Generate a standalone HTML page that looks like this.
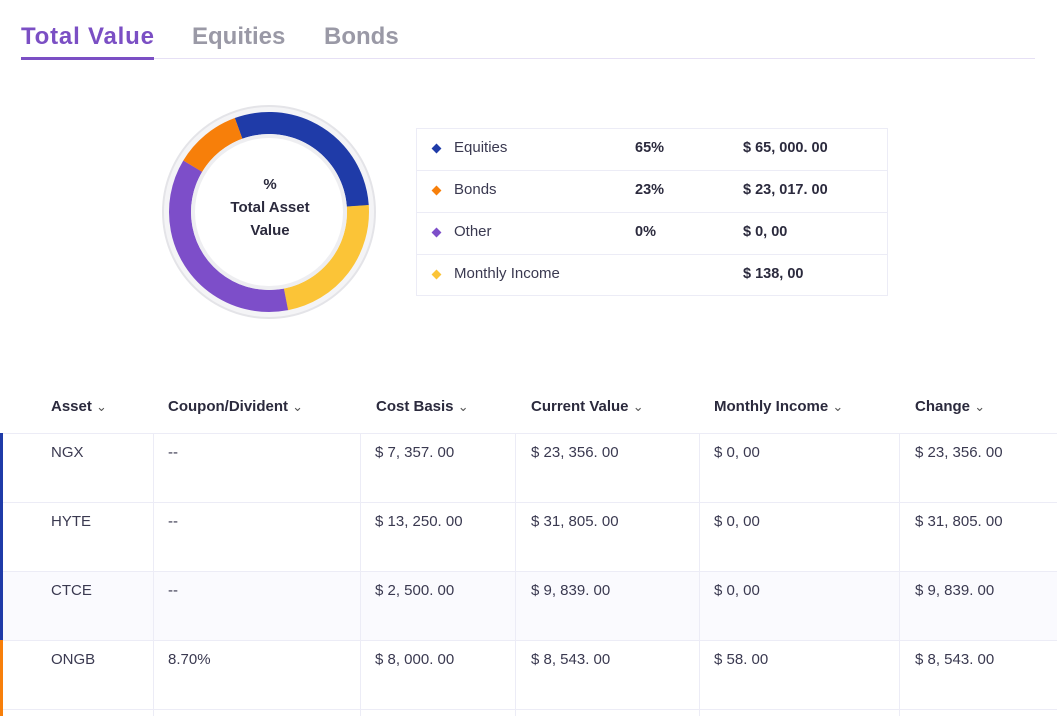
<!DOCTYPE html>
<html><head><meta charset="utf-8"><style>
body{margin:0;width:1057px;height:716px;background:#fff;font-family:"Liberation Sans",sans-serif;color:#2b2a3d;position:relative;overflow:hidden}
.a{position:absolute;white-space:nowrap}
.tab{font-size:24px;font-weight:bold;top:23px}
.lg{font-size:15px;color:#3a3950}
.b{font-weight:bold;color:#2b2a3d;font-size:14.5px}
.d{position:absolute;width:7px;height:7px;transform:rotate(45deg)}
.h{font-size:15px;font-weight:bold;top:398px}
.h span{font-weight:normal;font-size:13px;color:#555}
.c{font-size:15px;color:#3a3950}
.hl{position:absolute;height:1px;background:#ececf6;left:0;width:1057px}
.vl{position:absolute;width:1px;background:#ececf6;top:433px;height:283px}
</style></head><body>
<div class="a tab" style="left:21px;color:#7b4fc4;letter-spacing:0.8px">Total Value</div>
<div class="a tab" style="left:192px;color:#9a99a6">Equities</div>
<div class="a tab" style="left:324px;color:#9a99a6">Bonds</div>
<div class="a" style="left:21px;top:58px;width:1014px;height:1px;background:#e6e0f5"></div>
<div class="a" style="left:21px;top:57px;width:133px;height:3px;background:#7b4fc4"></div>

<svg class="a" style="left:159px;top:102px" width="220" height="220" viewBox="0 0 220 220">
<circle cx="110" cy="110" r="106" fill="#f4f4f6" stroke="#e4e4e8" stroke-width="2"/>
<g fill="none" stroke-width="22">
<circle cx="110" cy="110" r="89" stroke="#1f3ba8" stroke-dasharray="164.8 600" transform="rotate(250 110 110)"/>
<circle cx="110" cy="110" r="89" stroke="#fbc437" stroke-dasharray="129 600" transform="rotate(-4 110 110)"/>
<circle cx="110" cy="110" r="89" stroke="#7d4ec9" stroke-dasharray="205 600" transform="rotate(79 110 110)"/>
<circle cx="110" cy="110" r="89" stroke="#f77f0a" stroke-dasharray="60.6 600" transform="rotate(211 110 110)"/>
</g>
<circle cx="110" cy="110" r="78" fill="#eeeef1"/>
<circle cx="110" cy="110" r="74" fill="#fff"/>
</svg>
<div class="a" style="left:200px;top:173px;width:140px;text-align:center;font-weight:bold;font-size:15px;line-height:23px;color:#2b2a3d">%<br>Total Asset<br>Value</div>

<div class="a" style="left:416px;top:128px;width:470px;height:166px;border:1px solid #ececf6"></div>
<div class="a" style="left:416px;top:170px;width:471px;height:1px;background:#ececf6"></div>
<div class="a" style="left:416px;top:212px;width:471px;height:1px;background:#ececf6"></div>
<div class="a" style="left:416px;top:254px;width:471px;height:1px;background:#ececf6"></div>
<div class="d" style="left:433px;top:145px;background:#1f3ba8"></div>
<div class="d" style="left:433px;top:187px;background:#f77f0a"></div>
<div class="d" style="left:433px;top:229px;background:#7d4ec9"></div>
<div class="d" style="left:433px;top:271px;background:#fbc437"></div>
<div class="a lg" style="left:454px;top:139px">Equities</div>
<div class="a lg" style="left:454px;top:181px">Bonds</div>
<div class="a lg" style="left:454px;top:223px">Other</div>
<div class="a lg" style="left:454px;top:265px">Monthly Income</div>
<div class="a b" style="left:635px;top:140px">65%</div>
<div class="a b" style="left:635px;top:182px">23%</div>
<div class="a b" style="left:635px;top:224px">0%</div>
<div class="a b" style="left:743px;top:140px">$ 65, 000. 00</div>
<div class="a b" style="left:743px;top:182px">$ 23, 017. 00</div>
<div class="a b" style="left:743px;top:224px">$ 0, 00</div>
<div class="a b" style="left:743px;top:266px">$ 138, 00</div>

<div class="a h" style="left:51px">Asset <span>⌄</span></div>
<div class="a h" style="left:168px">Coupon/Divident <span>⌄</span></div>
<div class="a h" style="left:376px">Cost Basis <span>⌄</span></div>
<div class="a h" style="left:531px">Current Value <span>⌄</span></div>
<div class="a h" style="left:714px">Monthly Income <span>⌄</span></div>
<div class="a h" style="left:915px">Change <span>⌄</span></div>

<div class="a" style="left:0;top:571px;width:1057px;height:69px;background:#fafafe"></div>
<div class="hl" style="top:433px"></div>
<div class="hl" style="top:502px"></div>
<div class="hl" style="top:571px"></div>
<div class="hl" style="top:640px"></div>
<div class="hl" style="top:709px"></div>
<div class="vl" style="left:153px"></div>
<div class="vl" style="left:360px"></div>
<div class="vl" style="left:515px"></div>
<div class="vl" style="left:699px"></div>
<div class="vl" style="left:899px"></div>
<div class="a" style="left:0;top:433px;width:3px;height:207px;background:#1f3ba8"></div>
<div class="a" style="left:0;top:640px;width:3px;height:76px;background:#f77f0a"></div>

<div class="a c" style="left:51px;top:444px">NGX</div>
<div class="a c" style="left:168px;top:444px">--</div>
<div class="a c" style="left:375px;top:444px">$ 7, 357. 00</div>
<div class="a c" style="left:531px;top:444px">$ 23, 356. 00</div>
<div class="a c" style="left:714px;top:444px">$ 0, 00</div>
<div class="a c" style="left:915px;top:444px">$ 23, 356. 00</div>

<div class="a c" style="left:51px;top:513px">HYTE</div>
<div class="a c" style="left:168px;top:513px">--</div>
<div class="a c" style="left:375px;top:513px">$ 13, 250. 00</div>
<div class="a c" style="left:531px;top:513px">$ 31, 805. 00</div>
<div class="a c" style="left:714px;top:513px">$ 0, 00</div>
<div class="a c" style="left:915px;top:513px">$ 31, 805. 00</div>

<div class="a c" style="left:51px;top:582px">CTCE</div>
<div class="a c" style="left:168px;top:582px">--</div>
<div class="a c" style="left:375px;top:582px">$ 2, 500. 00</div>
<div class="a c" style="left:531px;top:582px">$ 9, 839. 00</div>
<div class="a c" style="left:714px;top:582px">$ 0, 00</div>
<div class="a c" style="left:915px;top:582px">$ 9, 839. 00</div>

<div class="a c" style="left:51px;top:651px">ONGB</div>
<div class="a c" style="left:168px;top:651px">8.70%</div>
<div class="a c" style="left:375px;top:651px">$ 8, 000. 00</div>
<div class="a c" style="left:531px;top:651px">$ 8, 543. 00</div>
<div class="a c" style="left:714px;top:651px">$ 58. 00</div>
<div class="a c" style="left:915px;top:651px">$ 8, 543. 00</div>
</body></html>
